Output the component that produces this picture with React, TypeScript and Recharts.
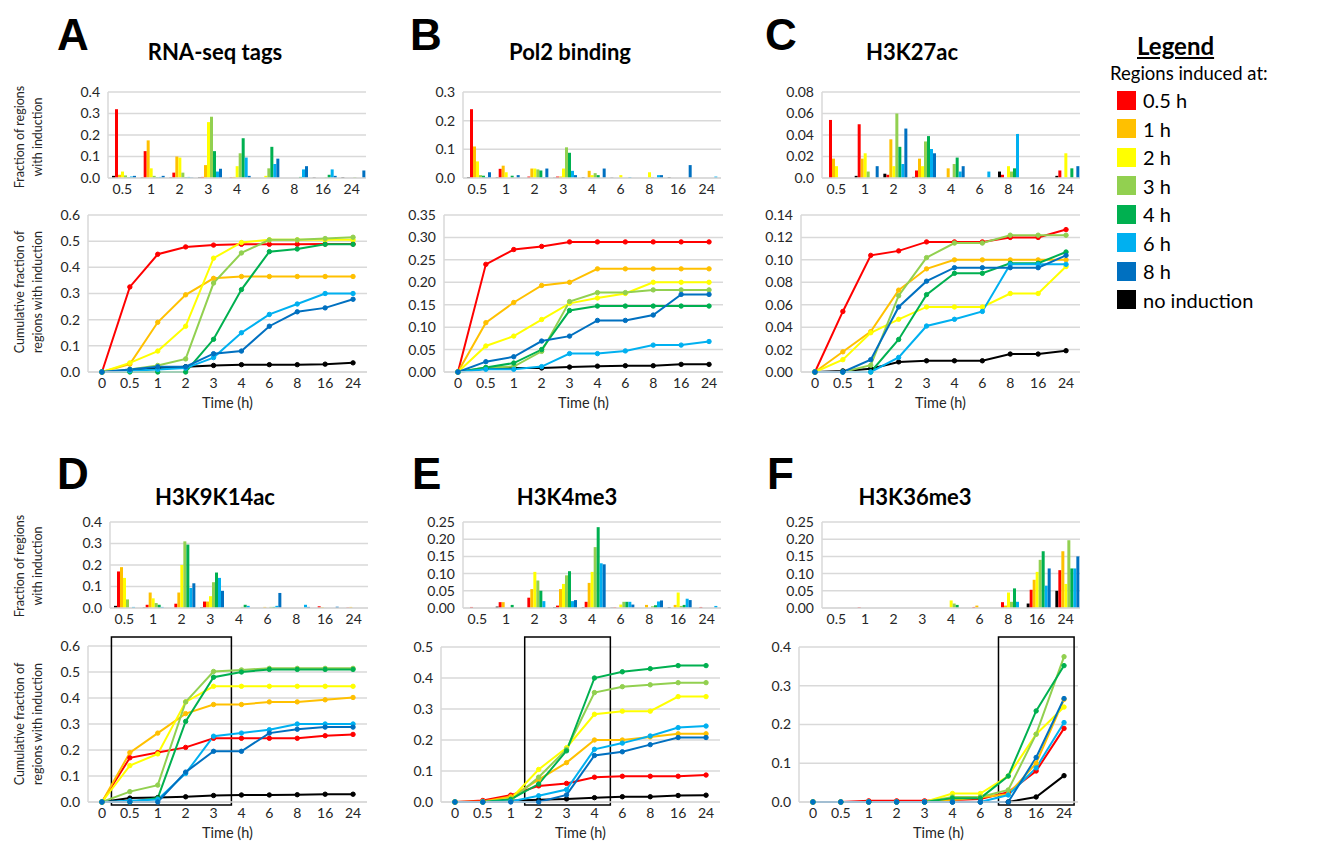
import { BarChart, Bar, LineChart, Line, XAxis, YAxis, CartesianGrid, ReferenceArea } from 'recharts'

// categories / labels
const barCats = ['0.5', '1', '2', '3', '4', '6', '8', '16', '24']
const timeLabels = ['0', '0.5', '1', '2', '3', '4', '6', '8', '16', '24']
// series order: no induction, 0.5 h, 1 h, 2 h, 3 h, 4 h, 6 h, 8 h
const seriesNames = ['no induction', '0.5 h', '1 h', '2 h', '3 h', '4 h', '6 h', '8 h']
const seriesColors = ['#000000', '#FF0000', '#FFC000', '#FFFF00', '#92D050', '#00B050', '#00B0F0', '#0070C0']
const legendOrder = [1, 2, 3, 4, 5, 6, 7, 0]

// A: RNA-seq tags
const rnaBars = [
  [0.01, 0.002, 0.002, 0.003, 0, 0, 0, 0.002, 0.003],
  [0.32, 0.125, 0.025, 0.005, 0.003, 0, 0, 0, 0],
  [0.015, 0.175, 0.1, 0.06, 0.005, 0, 0, 0, 0],
  [0.03, 0.045, 0.095, 0.26, 0.055, 0.01, 0, 0, 0],
  [0.012, 0.01, 0.025, 0.285, 0.115, 0.045, 0, 0.003, 0.003],
  [0.003, 0.003, 0.003, 0.125, 0.185, 0.145, 0.005, 0.015, 0],
  [0.007, 0.005, 0.005, 0.03, 0.095, 0.065, 0.04, 0.04, 0],
  [0.01, 0.01, 0.002, 0.043, 0.01, 0.09, 0.055, 0.01, 0.035],
]
const rnaCum = [
  [0, 0.005, 0.015, 0.02, 0.025, 0.028, 0.028, 0.028, 0.03, 0.035],
  [0, 0.325, 0.45, 0.478, 0.485, 0.488, 0.488, 0.488, 0.489, 0.489],
  [0, 0.03, 0.19, 0.295, 0.358, 0.365, 0.365, 0.365, 0.365, 0.365],
  [0, 0.035, 0.08, 0.175, 0.435, 0.495, 0.505, 0.505, 0.505, 0.505],
  [0, 0.01, 0.025, 0.05, 0.34, 0.455, 0.505, 0.505, 0.51, 0.515],
  [0, 0, 0, 0, 0.125, 0.315, 0.46, 0.47, 0.488, 0.488],
  [0, 0.005, 0.01, 0.015, 0.055, 0.15, 0.22, 0.26, 0.3, 0.3],
  [0, 0.01, 0.02, 0.02, 0.07, 0.08, 0.175, 0.23, 0.245, 0.278],
]
const rnaBarTicks = [0, 0.1, 0.2, 0.3, 0.4]
const rnaCumTicks = [0, 0.1, 0.2, 0.3, 0.4, 0.5, 0.6]

// B: Pol2 binding
const polBars = [
  [0.003, 0.002, 0, 0.001, 0.002, 0.001, 0, 0.002, 0],
  [0.24, 0.032, 0.005, 0.005, 0, 0, 0, 0, 0],
  [0.11, 0.043, 0.033, 0.005, 0.025, 0, 0, 0, 0],
  [0.058, 0.02, 0.033, 0.033, 0.01, 0.01, 0.02, 0, 0],
  [0.01, 0, 0.03, 0.107, 0.017, 0, 0.003, 0, 0],
  [0.008, 0.008, 0.026, 0.088, 0.01, 0, 0, 0, 0],
  [0.003, 0, 0.003, 0.025, 0, 0.003, 0.01, 0, 0.005],
  [0.02, 0.01, 0.033, 0.01, 0.033, 0, 0.01, 0.045, 0],
]
const polCum = [
  [0, 0.008, 0.009, 0.009, 0.011, 0.013, 0.014, 0.014, 0.017, 0.017],
  [0, 0.24, 0.273, 0.28, 0.29, 0.29, 0.29, 0.29, 0.29, 0.29],
  [0, 0.11, 0.155, 0.193, 0.2, 0.23, 0.23, 0.23, 0.23, 0.23],
  [0, 0.058, 0.08, 0.117, 0.153, 0.165, 0.175, 0.2, 0.2, 0.2],
  [0, 0.01, 0.012, 0.046, 0.157, 0.177, 0.177, 0.183, 0.183, 0.183],
  [0, 0.01, 0.02, 0.05, 0.137, 0.147, 0.147, 0.147, 0.147, 0.147],
  [0, 0.006, 0.006, 0.012, 0.041, 0.041, 0.047, 0.06, 0.06, 0.068],
  [0, 0.023, 0.034, 0.069, 0.08, 0.115, 0.115, 0.127, 0.173, 0.173],
]
const polBarTicks = [0, 0.1, 0.2, 0.3]
const polCumTicks = [0, 0.05, 0.1, 0.15, 0.2, 0.25, 0.3, 0.35]

// C: H3K27ac
const k27Bars = [
  [0, 0.002, 0.004, 0.001, 0, 0, 0.006, 0, 0.002],
  [0.054, 0.05, 0.003, 0.007, 0, 0, 0.003, 0, 0.007],
  [0.018, 0.018, 0.036, 0.018, 0.009, 0, 0, 0, 0],
  [0.011, 0.023, 0.011, 0.011, 0, 0, 0.011, 0, 0.023],
  [0, 0.006, 0.06, 0.034, 0.013, 0, 0.006, 0, 0],
  [0, 0, 0.029, 0.039, 0.019, 0, 0.009, 0, 0.009],
  [0, 0, 0.013, 0.027, 0.006, 0.006, 0.041, 0, 0],
  [0, 0.011, 0.046, 0.023, 0.011, 0, 0, 0, 0.011],
]
const k27Cum = [
  [0, 0.001, 0.003, 0.009, 0.01, 0.01, 0.01, 0.016, 0.016, 0.019],
  [0, 0.054, 0.104, 0.108, 0.116, 0.116, 0.116, 0.12, 0.12, 0.127],
  [0, 0.018, 0.036, 0.073, 0.092, 0.1, 0.1, 0.1, 0.1, 0.1],
  [0, 0.011, 0.035, 0.047, 0.058, 0.058, 0.058, 0.07, 0.07, 0.094],
  [0, 0, 0.006, 0.068, 0.102, 0.115, 0.115, 0.122, 0.122, 0.122],
  [0, 0, 0, 0.029, 0.069, 0.088, 0.088, 0.097, 0.097, 0.107],
  [0, 0, 0, 0.013, 0.041, 0.047, 0.054, 0.096, 0.096, 0.096],
  [0, 0, 0.011, 0.058, 0.081, 0.093, 0.093, 0.093, 0.093, 0.104],
]
const k27BarTicks = [0, 0.02, 0.04, 0.06, 0.08]
const k27CumTicks = [0, 0.02, 0.04, 0.06, 0.08, 0.1, 0.12, 0.14]

// D: H3K9K14ac
const k9Bars = [
  [0.01, 0.002, 0, 0.003, 0, 0, 0, 0, 0],
  [0.17, 0.015, 0.02, 0.03, 0, 0, 0, 0.008, 0.002],
  [0.19, 0.072, 0.072, 0.03, 0, 0.005, 0, 0.004, 0.005],
  [0.14, 0.045, 0.2, 0.055, 0, 0, 0, 0, 0],
  [0.04, 0.023, 0.31, 0.12, 0.005, 0.005, 0, 0, 0],
  [0, 0.015, 0.295, 0.165, 0.015, 0.005, 0, 0, 0],
  [0.005, 0.005, 0.093, 0.14, 0.01, 0.01, 0.015, 0, 0],
  [0, 0, 0.115, 0.08, 0, 0.07, 0.005, 0.006, 0],
]
const k9Cum = [
  [0, 0.015, 0.017, 0.02, 0.025, 0.027, 0.027, 0.028, 0.03, 0.03],
  [0, 0.17, 0.19, 0.21, 0.245, 0.245, 0.245, 0.245, 0.255, 0.26],
  [0, 0.19, 0.265, 0.34, 0.375, 0.375, 0.385, 0.385, 0.393, 0.402],
  [0, 0.14, 0.185, 0.385, 0.445, 0.445, 0.445, 0.445, 0.445, 0.445],
  [0, 0.04, 0.065, 0.385, 0.502, 0.508, 0.514, 0.514, 0.514, 0.514],
  [0, 0, 0.015, 0.31, 0.48, 0.5, 0.51, 0.51, 0.51, 0.51],
  [0, 0.005, 0.01, 0.11, 0.253, 0.265, 0.278, 0.3, 0.3, 0.3],
  [0, 0, 0, 0.115, 0.195, 0.195, 0.265, 0.28, 0.288, 0.288],
]
const k9BarTicks = [0, 0.1, 0.2, 0.3, 0.4]
const k9CumTicks = [0, 0.1, 0.2, 0.3, 0.4, 0.5, 0.6]

// E: H3K4me3
const k4Bars = [
  [0, 0.004, 0, 0.002, 0.002, 0.001, 0, 0.002, 0],
  [0.003, 0.017, 0.03, 0.007, 0.018, 0.002, 0, 0, 0.003],
  [0, 0.017, 0.055, 0.055, 0.073, 0, 0.009, 0.009, 0],
  [0, 0, 0.105, 0.07, 0.105, 0.01, 0, 0.045, 0],
  [0, 0, 0.08, 0.095, 0.177, 0.018, 0.005, 0.006, 0],
  [0, 0.009, 0.05, 0.107, 0.235, 0.018, 0.008, 0.009, 0],
  [0, 0, 0.02, 0.02, 0.13, 0.018, 0.019, 0.027, 0.006],
  [0, 0, 0, 0.023, 0.127, 0.01, 0.022, 0.023, 0],
]
const k4Cum = [
  [0, 0, 0.004, 0.007, 0.01, 0.014, 0.017, 0.017, 0.021, 0.022],
  [0, 0.005, 0.022, 0.052, 0.06, 0.08, 0.083, 0.083, 0.083, 0.087],
  [0, 0.002, 0.017, 0.072, 0.127, 0.2, 0.2, 0.21, 0.22, 0.22],
  [0, 0, 0.01, 0.105, 0.175, 0.283, 0.293, 0.293, 0.34, 0.34],
  [0, 0, 0.005, 0.08, 0.17, 0.353, 0.372, 0.378, 0.385, 0.385],
  [0, 0, 0.009, 0.058, 0.165, 0.4, 0.42, 0.43, 0.44, 0.44],
  [0, 0, 0.002, 0.02, 0.04, 0.17, 0.19, 0.213, 0.24, 0.245],
  [0, 0, 0, 0, 0.023, 0.15, 0.162, 0.185, 0.208, 0.208],
]
const k4BarTicks = [0, 0.05, 0.1, 0.15, 0.2, 0.25]
const k4CumTicks = [0, 0.1, 0.2, 0.3, 0.4, 0.5]

// F: H3K36me3
const k36Bars = [
  [0, 0, 0, 0, 0, 0, 0, 0.013, 0.05],
  [0, 0.002, 0, 0, 0, 0.003, 0.017, 0.053, 0.11],
  [0, 0, 0, 0, 0, 0.007, 0.007, 0.082, 0.165],
  [0, 0, 0, 0, 0.022, 0, 0.045, 0.105, 0.07],
  [0, 0, 0, 0, 0.013, 0, 0.018, 0.14, 0.197],
  [0, 0, 0, 0, 0.009, 0, 0.057, 0.165, 0.115],
  [0, 0, 0, 0, 0, 0, 0.018, 0.065, 0.115],
  [0, 0, 0, 0, 0, 0, 0, 0.115, 0.15],
]
const k36Cum = [
  [0, 0, 0, 0, 0, 0, 0, 0, 0.013, 0.068],
  [0, 0, 0.003, 0.003, 0.003, 0.005, 0.008, 0.025, 0.08, 0.19],
  [0, 0, 0, 0, 0, 0.005, 0.012, 0.02, 0.1, 0.265],
  [0, 0, 0, 0, 0, 0.022, 0.022, 0.067, 0.175, 0.245],
  [0, 0, 0, 0, 0, 0.013, 0.013, 0.031, 0.175, 0.375],
  [0, 0, 0, 0, 0, 0.01, 0.01, 0.067, 0.235, 0.352],
  [0, 0, 0, 0, 0, 0, 0, 0.018, 0.088, 0.205],
  [0, 0, 0, 0, 0, 0, 0, 0, 0.115, 0.267],
]
const k36BarTicks = [0, 0.05, 0.1, 0.15, 0.2, 0.25]
const k36CumTicks = [0, 0.1, 0.2, 0.3, 0.4]

// highlighted windows [x from, x to (time index), y from, y to]
const boxD = [0.34, 4.64, -0.012, 0.635]
const boxE = [2.5, 5.57, -0.01, 0.532]
const boxF = [6.65, 9.36, -0.008, 0.426]

const font = 'Lato, "Open Sans", sans-serif'
const grid = '#d9d9d9'
const tickStyle = { fontSize: 14, fill: '#262626', fontFamily: font }
const MT = 14

function fmt(dec: number, zero?: string) {
  return (v: number) => (v === 0 && zero ? zero : v.toFixed(dec))
}

function FracBars({ values, ticks, dec, zero, px, py }: any) {
  const rows = barCats.map((c, i) => {
    const r: any = { cat: c }
    values.forEach((s: number[], k: number) => (r['s' + k] = s[i]))
    return r
  })
  const yw = 50
  return (
    <div style={{ position: 'absolute', left: px - yw, top: py - MT }}>
      <BarChart width={258 + yw + 2} height={86 + MT + 24} data={rows}
        margin={{ top: MT, right: 2, left: 0, bottom: 0 }} barGap={0} barCategoryGap="14%">
        <CartesianGrid vertical={false} stroke={grid} strokeWidth={1.5} />
        <XAxis dataKey="cat" height={24} interval={0} tickLine={false} tickSize={4}
          axisLine={{ stroke: grid, strokeWidth: 1.5 }} tick={tickStyle} />
        <YAxis width={yw} domain={[ticks[0], ticks[ticks.length - 1]]} ticks={ticks}
          tickFormatter={fmt(dec, zero)} tickLine={false} axisLine={{ stroke: grid, strokeWidth: 1.5 }}
          tick={tickStyle} interval={0} />
        {values.map((_: any, k: number) => (
          <Bar key={k} dataKey={'s' + k} fill={seriesColors[k]} isAnimationActive={false} />
        ))}
      </BarChart>
    </div>
  )
}

function CumLines({ values, ticks, dec, zero, px, py, ph, box }: any) {
  const rows = timeLabels.map((t, i) => {
    const r: any = { i, t }
    values.forEach((s: number[], k: number) => (r['s' + k] = s[i]))
    return r
  })
  const yw = 50
  const dom = [ticks[0], ticks[ticks.length - 1]]
  return (
    <div style={{ position: 'absolute', left: px - yw, top: py - MT }}>
      <LineChart width={279 + yw + 2} height={ph + MT + 46} data={rows}
        margin={{ top: MT, right: 2, left: 0, bottom: 0 }}>
        <CartesianGrid vertical={false} stroke={grid} strokeWidth={1.5} yAxisId="l" />
        <XAxis type="number" dataKey="i" domain={[-0.5, 9.5]} ticks={timeLabels.map((_, i) => i)}
          tickFormatter={(i: number) => timeLabels[i]} interval={0} height={46} tickLine={false} tickSize={4}
          axisLine={{ stroke: grid, strokeWidth: 1.5 }} tick={tickStyle}
          label={{ value: 'Time (h)', position: 'insideBottom', offset: 10, style: { fontSize: 14.5, fill: '#262626', fontFamily: font } }} />
        <YAxis yAxisId="l" width={yw} domain={dom} ticks={ticks} tickFormatter={fmt(dec, zero)} interval={0}
          tickLine={false} axisLine={{ stroke: grid, strokeWidth: 1.5 }} tick={tickStyle} />
        <YAxis yAxisId="r" orientation="right" width={0} domain={dom} tick={false} tickLine={false}
          axisLine={{ stroke: grid, strokeWidth: 1.5 }} />
        {values.map((_: any, k: number) => (
          <Line key={k} yAxisId="l" type="linear" dataKey={'s' + k} stroke={seriesColors[k]} strokeWidth={2}
            dot={{ r: 2.2, fill: seriesColors[k], stroke: seriesColors[k], strokeWidth: 1 }}
            isAnimationActive={false} />
        ))}
        {box && (
          <ReferenceArea yAxisId="l" x1={box[0]} x2={box[1]} y1={box[2]} y2={box[3]} ifOverflow="visible"
            fill="none" fillOpacity={0} stroke="#000" strokeWidth={1.5} />
        )}
      </LineChart>
    </div>
  )
}

function VLabel({ cx, cy, lines }: { cx: number; cy: number; lines: string[] }) {
  return (
    <div style={{
      position: 'absolute', left: cx - 100, top: cy - 20, width: 200, height: 40,
      transform: 'rotate(-90deg)', textAlign: 'center', fontFamily: font, fontSize: 12.5,
      lineHeight: '18px', color: '#262626',
    }}>
      {lines.map((l) => <div key={l}>{l}</div>)}
    </div>
  )
}

function Heading({ letter, title, lx, ly, tx, ty }: any) {
  return (
    <>
      <div style={{ position: 'absolute', left: lx, top: ly, fontFamily: 'Liberation Sans, Arial, sans-serif', fontWeight: 'bold', fontSize: 44, lineHeight: '44px' }}>{letter}</div>
      <div style={{ position: 'absolute', left: tx - 150, top: ty - 14, width: 300, textAlign: 'center', fontFamily: font, fontWeight: 'bold', fontSize: 22, lineHeight: '28px' }}>{title}</div>
    </>
  )
}

export default function App() {
  return (
    <div style={{ position: 'fixed', left: 0, top: 0, width: 1317, height: 844, background: '#fff', overflow: 'hidden' }}>
      <Heading letter="A" title="RNA-seq tags" lx={57} ly={13} tx={215} ty={52} />
      <Heading letter="B" title="Pol2 binding" lx={410} ly={13} tx={570} ty={52} />
      <Heading letter="C" title="H3K27ac" lx={765} ly={13} tx={912} ty={52} />
      <Heading letter="D" title="H3K9K14ac" lx={57} ly={452} tx={215} ty={497} />
      <Heading letter="E" title="H3K4me3" lx={412} ly={452} tx={567} ty={497} />
      <Heading letter="F" title="H3K36me3" lx={767} ly={452} tx={915} ty={497} />

      <VLabel cx={31} cy={137} lines={['Fraction of regions', 'with induction']} />
      <VLabel cx={31} cy={292} lines={['Cumulative fraction of', 'regions with induction']} />
      <VLabel cx={31} cy={566} lines={['Fraction of regions', 'with induction']} />
      <VLabel cx={31} cy={724} lines={['Cumulative fraction of', 'regions with induction']} />

      <FracBars values={rnaBars} ticks={rnaBarTicks} dec={1} px={108} py={92} />
      <FracBars values={polBars} ticks={polBarTicks} dec={1} px={463} py={92} />
      <FracBars values={k27Bars} ticks={k27BarTicks} dec={2} zero="0.0" px={822} py={92} />
      <FracBars values={k9Bars} ticks={k9BarTicks} dec={1} px={110} py={522} />
      <FracBars values={k4Bars} ticks={k4BarTicks} dec={2} px={463} py={522} />
      <FracBars values={k36Bars} ticks={k36BarTicks} dec={2} px={822} py={522} />

      <CumLines values={rnaCum} ticks={rnaCumTicks} dec={1} px={88} py={215} ph={157} />
      <CumLines values={polCum} ticks={polCumTicks} dec={2} px={444} py={215} ph={157} />
      <CumLines values={k27Cum} ticks={k27CumTicks} dec={2} px={801} py={215} ph={157} />
      <CumLines values={k9Cum} ticks={k9CumTicks} dec={1} px={88} py={646} ph={156} box={boxD} />
      <CumLines values={k4Cum} ticks={k4CumTicks} dec={1} px={441} py={647} ph={155} box={boxE} />
      <CumLines values={k36Cum} ticks={k36CumTicks} dec={1} px={799} py={647} ph={155} box={boxF} />

      <div style={{ position: 'absolute', left: 1105, top: 31, width: 200, fontFamily: font, color: '#000' }}>
        <div style={{ fontSize: 24, fontWeight: 'bold', textDecoration: 'underline', marginLeft: 32, lineHeight: '30px' }}>Legend</div>
        <div style={{ fontSize: 18.5, lineHeight: '25px', marginLeft: 5 }}>Regions induced at:</div>
        {legendOrder.map((k) => (
          <div key={k} style={{ display: 'flex', alignItems: 'center', height: 28.5, marginLeft: 12 }}>
            <div style={{ width: 19, height: 19, background: seriesColors[k], marginRight: 7 }} />
            <div style={{ fontSize: 20 }}>{seriesNames[k]}</div>
          </div>
        ))}
      </div>
    </div>
  )
}
